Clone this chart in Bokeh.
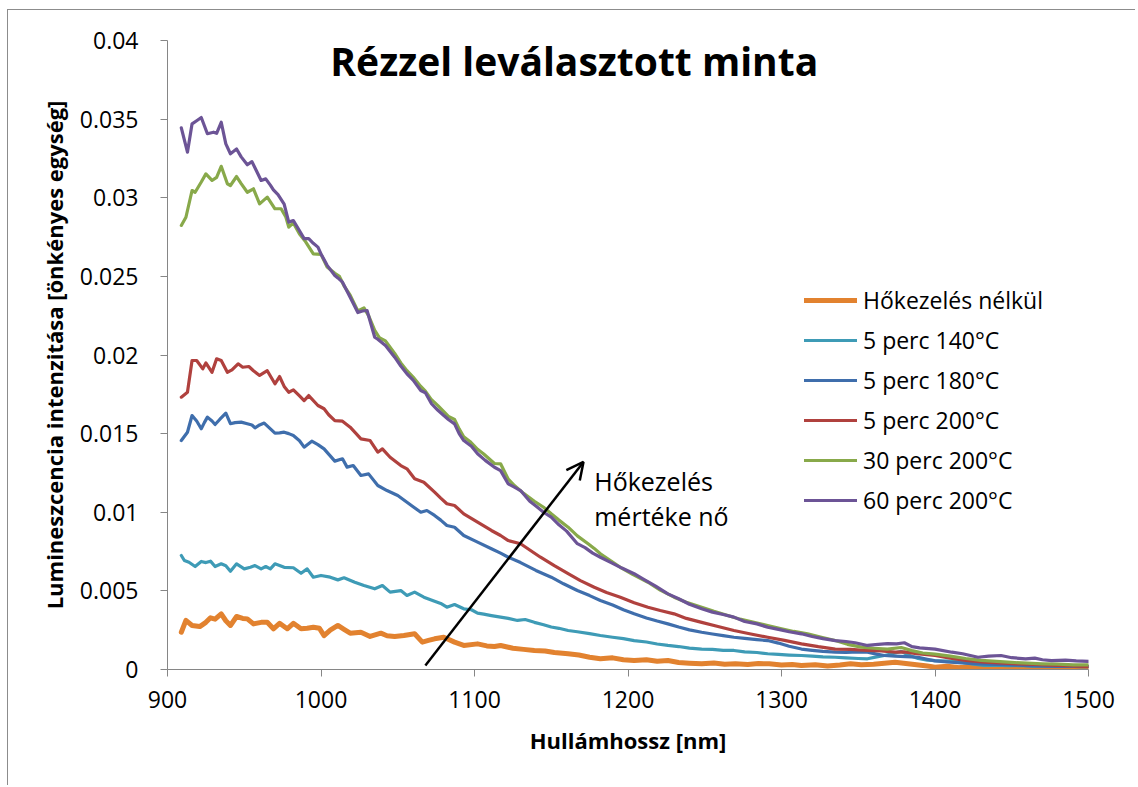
from bokeh.plotting import figure
from bokeh.models import Legend, LegendItem, Label, Arrow, OpenHead, FixedTicker, Range1d
from bokeh.embed import file_html
from bokeh.resources import INLINE

# ---------------- data ----------------
series_names = ["Hőkezelés nélkül", "5 perc 140°C", "5 perc 180°C",
                "5 perc 200°C", "30 perc 200°C", "60 perc 200°C"]
series_colors = ["#E2822F", "#3E9BB6", "#3F6EAC", "#B0413E", "#88A94A", "#6C5496"]

wl_orange = [909, 912, 916, 921, 925, 928, 931, 935, 938, 941, 945, 949, 952, 956, 961, 965, 969, 973, 978, 982,
             987, 991, 995, 999, 1002, 1006, 1011, 1015, 1019, 1026, 1032, 1039, 1043, 1048, 1054, 1061, 1066, 1070,
             1074, 1080, 1087, 1093, 1102, 1108, 1113, 1117, 1125, 1132, 1139, 1146, 1152, 1161, 1168, 1175, 1182,
             1190, 1197, 1204, 1212, 1219, 1226, 1233, 1240, 1248, 1256, 1263, 1270, 1278, 1285, 1292, 1300, 1307,
             1313, 1322, 1330, 1338, 1345, 1352, 1360, 1367, 1374, 1381, 1388, 1395, 1400, 1408, 1416, 1424, 1432,
             1440, 1448, 1456, 1464, 1472, 1480, 1488, 1496, 1500]
val_orange = [0.00237, 0.00312, 0.00280, 0.00273, 0.00300, 0.00329, 0.00320, 0.00354, 0.00310, 0.00280, 0.00337,
              0.00325, 0.00322, 0.00290, 0.00300, 0.00300, 0.00259, 0.00294, 0.00259, 0.00294, 0.00259, 0.00262,
              0.00269, 0.00262, 0.00216, 0.00250, 0.00280, 0.00255, 0.00231, 0.00237, 0.00210, 0.00231, 0.00215,
              0.00210, 0.00216, 0.00227, 0.00174, 0.00185, 0.00195, 0.00205, 0.00174, 0.00153, 0.00163, 0.00150,
              0.00146, 0.00153, 0.00135, 0.00128, 0.00121, 0.00118, 0.00108, 0.00100, 0.00092, 0.00078, 0.00068,
              0.00074, 0.00062, 0.00057, 0.00062, 0.00052, 0.00057, 0.00045, 0.00040, 0.00036, 0.00042, 0.00034,
              0.00036, 0.00032, 0.00038, 0.00036, 0.00028, 0.00032, 0.00025, 0.00030, 0.00022, 0.00028, 0.00036,
              0.00030, 0.00034, 0.00040, 0.00046, 0.00038, 0.00030, 0.00022, 0.00015, 0.00020, 0.00012, 0.00016,
              0.00010, 0.00014, 0.00008, 0.00012, 0.00010, 0.00014, 0.00009, 0.00012, 0.00010, 0.00011]

wl_cyan = [909, 911, 914, 918, 922, 925, 928, 931, 935, 938, 941, 945, 950, 954, 957, 961, 964, 967, 970, 973, 976,
           982, 987, 991, 995, 1000, 1006, 1011, 1015, 1022, 1028, 1035, 1040, 1045, 1052, 1056, 1061, 1067, 1074,
           1078, 1082, 1087, 1093, 1098, 1102, 1106, 1111, 1117, 1122, 1128, 1133, 1139, 1145, 1150, 1155, 1161,
           1167, 1175, 1182, 1190, 1197, 1204, 1212, 1219, 1226, 1233, 1240, 1248, 1255, 1262, 1269, 1276, 1284,
           1291, 1298, 1305, 1313, 1320, 1327, 1335, 1342, 1350, 1356, 1362, 1367, 1372, 1378, 1383, 1389, 1395,
           1400, 1408, 1416, 1424, 1432, 1440, 1448, 1456, 1464, 1472, 1480, 1488, 1496, 1500]
val_cyan = [0.00725, 0.00693, 0.00682, 0.00655, 0.00687, 0.00680, 0.00689, 0.00655, 0.00672, 0.00660, 0.00625,
            0.00672, 0.00640, 0.00650, 0.00661, 0.00640, 0.00655, 0.00640, 0.00672, 0.00662, 0.00650, 0.00647,
            0.00612, 0.00640, 0.00587, 0.00598, 0.00587, 0.00570, 0.00583, 0.00555, 0.00534, 0.00513, 0.00534,
            0.00492, 0.00502, 0.00471, 0.00492, 0.00460, 0.00434, 0.00420, 0.00396, 0.00413, 0.00386, 0.00380,
            0.00358, 0.00352, 0.00343, 0.00333, 0.00325, 0.00312, 0.00318, 0.00300, 0.00285, 0.00270, 0.00262,
            0.00248, 0.00240, 0.00228, 0.00216, 0.00205, 0.00196, 0.00184, 0.00175, 0.00162, 0.00153, 0.00146,
            0.00136, 0.00130, 0.00128, 0.00122, 0.00121, 0.00112, 0.00108, 0.00100, 0.00096, 0.00092, 0.00089,
            0.00085, 0.00080, 0.00078, 0.00074, 0.00070, 0.00068, 0.00080, 0.00089, 0.00100, 0.00115, 0.00090,
            0.00070, 0.00060, 0.00057, 0.00054, 0.00048, 0.00035, 0.00026, 0.00028, 0.00024, 0.00026, 0.00022,
            0.00025, 0.00020, 0.00022, 0.00018, 0.00020]

wl_blue = [909, 913, 916, 919, 922, 924, 926, 929, 931, 934, 938, 941, 944, 948, 952, 955, 957, 960, 963, 966, 970,
           973, 976, 979, 982, 986, 989, 994, 998, 1002, 1005, 1009, 1014, 1017, 1021, 1026, 1031, 1037, 1043, 1050,
           1056, 1060, 1065, 1069, 1074, 1078, 1082, 1087, 1093, 1102, 1111, 1117, 1122, 1130, 1140, 1150, 1158,
           1167, 1175, 1182, 1190, 1197, 1204, 1212, 1219, 1226, 1233, 1240, 1248, 1255, 1262, 1269, 1276, 1284,
           1291, 1298, 1305, 1313, 1320, 1327, 1335, 1342, 1350, 1356, 1362, 1367, 1374, 1381, 1389, 1395, 1400,
           1410, 1420, 1430, 1440, 1450, 1460, 1470, 1480, 1490, 1500]
val_blue = [0.01456, 0.01509, 0.01615, 0.01580, 0.01531, 0.01570, 0.01605, 0.01580, 0.01558, 0.01590, 0.01630,
            0.01563, 0.01570, 0.01573, 0.01563, 0.01555, 0.01537, 0.01555, 0.01567, 0.01540, 0.01503, 0.01505,
            0.01509, 0.01500, 0.01488, 0.01455, 0.01414, 0.01452, 0.01430, 0.01403, 0.01370, 0.01325, 0.01340,
            0.01287, 0.01297, 0.01234, 0.01244, 0.01170, 0.01138, 0.01107, 0.01064, 0.01035, 0.01000, 0.01011,
            0.00980, 0.00950, 0.00916, 0.00905, 0.00852, 0.00810, 0.00768, 0.00740, 0.00714, 0.00680, 0.00630,
            0.00587, 0.00545, 0.00502, 0.00470, 0.00439, 0.00410, 0.00380, 0.00354, 0.00328, 0.00308, 0.00290,
            0.00270, 0.00252, 0.00237, 0.00226, 0.00215, 0.00205, 0.00198, 0.00190, 0.00184, 0.00168, 0.00148,
            0.00130, 0.00122, 0.00115, 0.00110, 0.00108, 0.00112, 0.00110, 0.00098, 0.00089, 0.00085, 0.00082,
            0.00078, 0.00065, 0.00055, 0.00046, 0.00040, 0.00035, 0.00032, 0.00030, 0.00025, 0.00022, 0.00020,
            0.00019, 0.00018]

wl_red = [909, 913, 916, 919, 923, 925, 929, 932, 935, 939, 942, 946, 949, 953, 956, 960, 965, 970, 973, 976, 979,
          982, 986, 989, 992, 998, 1002, 1005, 1009, 1014, 1019, 1022, 1026, 1032, 1037, 1040, 1045, 1052, 1056,
          1061, 1067, 1074, 1078, 1082, 1087, 1093, 1102, 1111, 1117, 1122, 1130, 1136, 1143, 1152, 1161, 1169,
          1178, 1186, 1195, 1204, 1213, 1221, 1230, 1238, 1248, 1258, 1269, 1280, 1291, 1302, 1313, 1324, 1335,
          1345, 1356, 1365, 1374, 1380, 1388, 1400, 1410, 1420, 1432, 1445, 1455, 1465, 1475, 1485, 1497, 1500]
val_red = [0.01732, 0.01763, 0.01965, 0.01965, 0.01912, 0.01950, 0.01890, 0.01976, 0.01965, 0.01890, 0.01905,
           0.01944, 0.01922, 0.01927, 0.01900, 0.01870, 0.01900, 0.01817, 0.01863, 0.01800, 0.01763, 0.01778,
           0.01740, 0.01710, 0.01742, 0.01679, 0.01658, 0.01620, 0.01583, 0.01579, 0.01541, 0.01510, 0.01467,
           0.01456, 0.01382, 0.01403, 0.01350, 0.01297, 0.01276, 0.01213, 0.01191, 0.01128, 0.01090, 0.01054,
           0.01043, 0.00990, 0.00937, 0.00884, 0.00852, 0.00820, 0.00800, 0.00760, 0.00714, 0.00660, 0.00609,
           0.00565, 0.00523, 0.00490, 0.00460, 0.00425, 0.00396, 0.00375, 0.00354, 0.00325, 0.00300, 0.00275,
           0.00248, 0.00226, 0.00205, 0.00185, 0.00163, 0.00145, 0.00130, 0.00128, 0.00121, 0.00118, 0.00110,
           0.00112, 0.00100, 0.00089, 0.00072, 0.00058, 0.00046, 0.00040, 0.00035, 0.00032, 0.00028, 0.00024,
           0.00020, 0.00020]

wl_green = [909, 912, 916, 918, 922, 925, 929, 932, 935, 939, 941, 945, 948, 952, 956, 960, 965, 968, 970, 974, 977,
            979, 982, 986, 990, 995, 1000, 1004, 1009, 1012, 1015, 1019, 1024, 1028, 1031, 1035, 1038, 1042, 1048,
            1052, 1056, 1060, 1065, 1068, 1072, 1076, 1080, 1083, 1087, 1090, 1093, 1097, 1102, 1106, 1113, 1117,
            1122, 1126, 1132, 1139, 1145, 1150, 1155, 1161, 1167, 1174, 1178, 1182, 1189, 1195, 1203, 1213, 1221,
            1230, 1238, 1248, 1256, 1265, 1273, 1282, 1291, 1300, 1308, 1317, 1326, 1335, 1343, 1352, 1360, 1369,
            1378, 1385, 1392, 1400, 1410, 1420, 1430, 1440, 1450, 1460, 1470, 1480, 1490, 1500]
val_green = [0.02824, 0.02876, 0.03046, 0.03035, 0.03100, 0.03152, 0.03110, 0.03130, 0.03200, 0.03089, 0.03078,
             0.03135, 0.03090, 0.03035, 0.03057, 0.02961, 0.03004, 0.02960, 0.02930, 0.02930, 0.02880, 0.02813,
             0.02840, 0.02770, 0.02720, 0.02643, 0.02640, 0.02560, 0.02520, 0.02500, 0.02440, 0.02380, 0.02280,
             0.02300, 0.02250, 0.02156, 0.02110, 0.02090, 0.02010, 0.01950, 0.01900, 0.01860, 0.01800, 0.01770,
             0.01715, 0.01680, 0.01640, 0.01610, 0.01590, 0.01530, 0.01480, 0.01450, 0.01400, 0.01370, 0.01310,
             0.01308, 0.01210, 0.01170, 0.01120, 0.01070, 0.01032, 0.00990, 0.00950, 0.00905, 0.00850, 0.00800,
             0.00770, 0.00736, 0.00690, 0.00650, 0.00605, 0.00555, 0.00505, 0.00460, 0.00428, 0.00396, 0.00370,
             0.00343, 0.00320, 0.00300, 0.00280, 0.00259, 0.00242, 0.00227, 0.00205, 0.00184, 0.00160, 0.00142,
             0.00135, 0.00130, 0.00140, 0.00120, 0.00105, 0.00098, 0.00085, 0.00070, 0.00058, 0.00052, 0.00045,
             0.00040, 0.00036, 0.00034, 0.00030, 0.00030]

wl_purple = [909, 913, 916, 919, 922, 926, 930, 932, 935, 938, 941, 945, 948, 952, 955, 958, 961, 964, 967, 969, 972,
             976, 979, 982, 986, 989, 992, 995, 998, 1000, 1004, 1009, 1011, 1014, 1019, 1024, 1027, 1030, 1035, 1037,
             1042, 1048, 1052, 1056, 1060, 1065, 1068, 1072, 1076, 1080, 1083, 1087, 1090, 1093, 1098, 1102, 1107,
             1113, 1117, 1122, 1126, 1130, 1136, 1140, 1145, 1150, 1155, 1160, 1167, 1172, 1177, 1182, 1189, 1196,
             1204, 1210, 1218, 1226, 1233, 1240, 1248, 1255, 1262, 1269, 1276, 1284, 1291, 1298, 1305, 1313, 1320,
             1327, 1335, 1342, 1348, 1356, 1363, 1369, 1375, 1380, 1385, 1390, 1400, 1411, 1418, 1428, 1435, 1443,
             1450, 1459, 1465, 1470, 1476, 1485, 1492, 1500]
val_purple = [0.03445, 0.03290, 0.03470, 0.03490, 0.03510, 0.03407, 0.03417, 0.03410, 0.03480, 0.03343, 0.03280,
              0.03310, 0.03260, 0.03210, 0.03230, 0.03170, 0.03110, 0.03120, 0.03080, 0.03050, 0.03020, 0.02960,
              0.02845, 0.02855, 0.02790, 0.02740, 0.02740, 0.02710, 0.02686, 0.02643, 0.02570, 0.02506, 0.02490,
              0.02463, 0.02367, 0.02270, 0.02280, 0.02283, 0.02113, 0.02100, 0.02060, 0.01986, 0.01930, 0.01880,
              0.01840, 0.01774, 0.01760, 0.01690, 0.01650, 0.01615, 0.01590, 0.01562, 0.01500, 0.01456, 0.01420,
              0.01372, 0.01330, 0.01286, 0.01265, 0.01180, 0.01160, 0.01138, 0.01070, 0.01040, 0.01000, 0.00969,
              0.00920, 0.00880, 0.00800, 0.00775, 0.00740, 0.00714, 0.00680, 0.00645, 0.00609, 0.00575, 0.00530,
              0.00481, 0.00450, 0.00415, 0.00386, 0.00365, 0.00350, 0.00333, 0.00305, 0.00290, 0.00269, 0.00255,
              0.00240, 0.00227, 0.00210, 0.00196, 0.00184, 0.00178, 0.00170, 0.00153, 0.00160, 0.00165, 0.00163,
              0.00170, 0.00145, 0.00138, 0.00130, 0.00110, 0.00100, 0.00078, 0.00085, 0.00089, 0.00075, 0.00068,
              0.00072, 0.00062, 0.00057, 0.00060, 0.00055, 0.00052]

x_ticks = [900, 1000, 1100, 1200, 1300, 1400, 1500]
y_ticks = [0, 0.005, 0.01, 0.015, 0.02, 0.025, 0.03, 0.035, 0.04]
y_tick_labels = ["0", "0.005", "0.01", "0.015", "0.02", "0.025", "0.03", "0.035", "0.04"]

title_text = "Rézzel leválasztott minta"
x_label = "Hullámhossz [nm]"
y_label = "Lumineszcencia intenzitása [önkényes egység]"
note_lines = ["Hőkezelés", "mértéke nő"]
arrow_start = (1068, 0.00025)
arrow_end = (1171, 0.0132)

# ---------------- figure ----------------
FONT = "Open Sans"
AX = "#868686"

p = figure(width=1128, height=776, output_backend="svg", toolbar_location=None,
           x_range=Range1d(900, 1500), y_range=Range1d(0, 0.04),
           min_border_left=159, min_border_right=48, min_border_top=30, min_border_bottom=117)
p.styles = {"margin-left": "7px", "margin-top": "9px",
            "border-left": "1px solid #8c8c8c", "border-top": "1px solid #8c8c8c"}
p.outline_line_color = None
p.xgrid.grid_line_color = None
p.ygrid.grid_line_color = None
p.background_fill_color = "white"
p.border_fill_color = "white"

for ax in (p.xaxis[0], p.yaxis[0]):
    ax.axis_line_color = AX
    ax.major_tick_line_color = AX
    ax.minor_tick_line_color = None
    ax.major_tick_in = 0
    ax.major_tick_out = 7
    ax.major_label_text_font = FONT
    ax.major_label_text_font_size = "23px"
    ax.major_label_text_color = "black"
    ax.axis_label_text_font = FONT
    ax.axis_label_text_font_size = "22px"
    ax.axis_label_text_font_style = "bold"
    ax.axis_label_text_color = "black"

p.xaxis.ticker = FixedTicker(ticks=x_ticks)
p.yaxis.ticker = FixedTicker(ticks=y_ticks)
p.yaxis.major_label_overrides = {t: l for t, l in zip(y_ticks, y_tick_labels)}
p.xaxis.axis_label = x_label
p.yaxis.axis_label = y_label
p.xaxis.major_label_standoff = 14
p.yaxis.major_label_standoff = 22
p.xaxis.axis_label_standoff = 14
p.yaxis.axis_label_standoff = 8

all_x = [wl_orange, wl_cyan, wl_blue, wl_red, wl_green, wl_purple]
all_y = [val_orange, val_cyan, val_blue, val_red, val_green, val_purple]
widths = [5, 3.2, 3.2, 3.2, 3.2, 3.2]

items = []
for name, col, xs, ys, w in zip(series_names, series_colors, all_x, all_y, widths):
    r = p.line(xs, ys, line_color=col, line_width=w, line_join="round", line_cap="round")
    items.append(LegendItem(label=name, renderers=[r]))

legend = Legend(items=items, location=(637, 153), orientation="vertical",
                glyph_width=53, glyph_height=20, label_height=20, spacing=8,
                label_standoff=6, padding=0, margin=0,
                label_text_font=FONT, label_text_font_size="23px", label_text_color="black",
                border_line_color=None, background_fill_alpha=0)
p.add_layout(legend, "center")

p.add_layout(Label(x=1165, y=0.0387, text=title_text, text_font=FONT, text_font_size="39px",
                   text_font_style="bold", text_align="center", text_baseline="middle", text_color="black"))

p.add_layout(Arrow(end=OpenHead(size=17, line_width=2.5, line_color="black"),
                   x_start=arrow_start[0], y_start=arrow_start[1],
                   x_end=arrow_end[0], y_end=arrow_end[1],
                   line_width=2.5, line_color="black"))

p.add_layout(Label(x=1178, y=0.01201, text=note_lines[0], text_font=FONT, text_font_size="25px",
                   text_align="left", text_baseline="alphabetic", text_color="black"))
p.add_layout(Label(x=1178, y=0.00978, text=note_lines[1], text_font=FONT, text_font_size="25px",
                   text_align="left", text_baseline="alphabetic", text_color="black"))

open("out.html", "w").write(file_html(p, INLINE))
